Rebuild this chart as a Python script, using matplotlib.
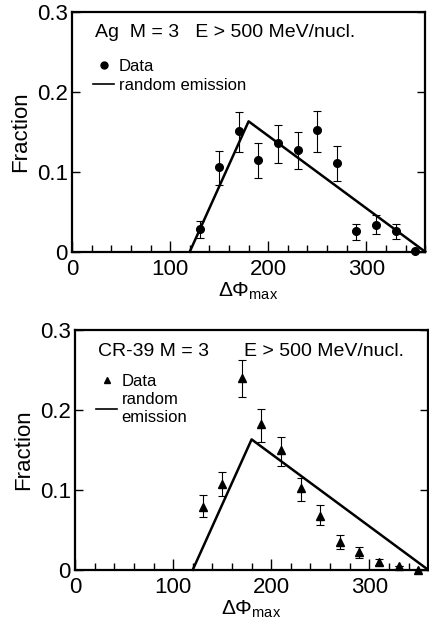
import matplotlib.pyplot as plt
from matplotlib.lines import Line2D
from matplotlib.ticker import MultipleLocator

plt.rcParams['font.family'] = ['Liberation Sans', 'DejaVu Sans']
plt.rcParams['mathtext.fontset'] = 'custom'
plt.rcParams['mathtext.rm'] = 'Liberation Sans'
plt.rcParams['mathtext.it'] = 'Liberation Sans'

# random emission model (same for both panels)
model_x = [120, 180, 360]
model_y = [0.0, 0.163, 0.0]

# Ag detector data
ag_x = [130, 150, 170, 190, 210, 230, 250, 270, 290, 310, 330, 350]
ag_y = [0.029, 0.106, 0.151, 0.115, 0.136, 0.127, 0.152, 0.111, 0.026, 0.034, 0.026, 0.001]
ag_lo = [0.012, 0.022, 0.026, 0.023, 0.025, 0.023, 0.027, 0.022, 0.011, 0.012, 0.010, 0.0]
ag_hi = [0.010, 0.020, 0.024, 0.021, 0.022, 0.023, 0.024, 0.021, 0.009, 0.012, 0.009, 0.0]

# CR-39 detector data
cr_x = [130, 150, 170, 190, 210, 230, 250, 270, 290, 310, 330, 350]
cr_y = [0.079, 0.107, 0.240, 0.182, 0.150, 0.102, 0.067, 0.035, 0.022, 0.010, 0.005, 0.0]
cr_lo = [0.013, 0.015, 0.024, 0.022, 0.020, 0.016, 0.011, 0.009, 0.007, 0.004, 0.0, 0.0]
cr_hi = [0.014, 0.015, 0.022, 0.019, 0.016, 0.013, 0.014, 0.009, 0.006, 0.003, 0.0, 0.0]

fig = plt.figure(figsize=(4.29, 6.2), dpi=100)
ax1 = fig.add_axes([0.168, 0.594, 0.823, 0.387])
ax2 = fig.add_axes([0.175, 0.081, 0.823, 0.387])


def style(ax):
    ax.set_xlim(0, 360)
    ax.set_ylim(0, 0.3)
    ax.xaxis.set_major_locator(MultipleLocator(100))
    ax.xaxis.set_minor_locator(MultipleLocator(20))
    ax.set_yticks([0, 0.1, 0.2, 0.3])
    ax.set_yticklabels(['0', '0.1', '0.2', '0.3'])
    ax.tick_params(axis='x', which='major', direction='in', length=8, width=1.0,
                   labelsize=16, pad=5, top=False)
    ax.tick_params(axis='x', which='minor', direction='in', length=5, width=1.0, top=False)
    ax.tick_params(axis='y', which='major', direction='in', length=6, width=1.0,
                   labelsize=16, pad=3, right=True)
    for s in ax.spines.values():
        s.set_linewidth(1.6)
    ax.set_ylabel('Fraction', fontsize=16, labelpad=4)
    ax.set_xlabel(r'$\Delta\Phi_{\mathrm{max}}$', fontsize=15, labelpad=1)


# top panel
ax1.plot(model_x, model_y, color='black', lw=1.8, clip_on=False)
ax1.errorbar(ag_x, ag_y, yerr=[ag_lo, ag_hi], fmt='o', color='black', ms=5.5,
             elinewidth=0.8, capsize=3, capthick=0.8, clip_on=False)
style(ax1)
ax1.text(23, 0.274, 'Ag  M = 3   E > 500 MeV/nucl.', fontsize=14, va='center')
h1 = [Line2D([], [], marker='o', ls='none', color='black', ms=5),
      Line2D([], [], color='black', lw=1.2)]
ax1.legend(h1, ['Data', 'random emission'], loc='upper left', frameon=False,
           bbox_to_anchor=(0.035, 0.25 / 0.3 + 0.005), fontsize=12,
           handlelength=1.3, handletextpad=0.25, labelspacing=0.25, borderpad=0)

# bottom panel
ax2.plot(model_x, model_y, color='black', lw=1.8, clip_on=False)
ax2.errorbar(cr_x, cr_y, yerr=[cr_lo, cr_hi], fmt='^', color='black', ms=6,
             elinewidth=0.8, capsize=3, capthick=0.8, clip_on=False)
style(ax2)
ax2.text(23, 0.2725, 'CR-39 M = 3', fontsize=14, va='center')
ax2.text(172, 0.2725, 'E > 500 MeV/nucl.', fontsize=14, va='center')
h2 = [Line2D([], [], marker='^', ls='none', color='black', ms=5),
      Line2D([], [], color='black', lw=1.2)]
ax2.legend(h2, ['Data', 'random\nemission'], loc='upper left', frameon=False,
           bbox_to_anchor=(0.035, 0.255 / 0.3), fontsize=12,
           handlelength=1.3, handletextpad=0.25, labelspacing=0.2, borderpad=0)

fig.savefig('out.png', dpi=100)
